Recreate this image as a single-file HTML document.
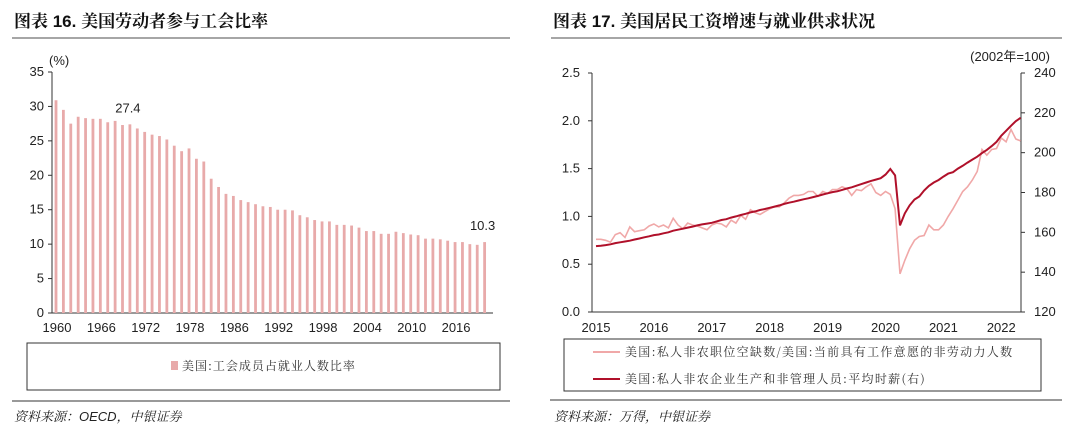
<!DOCTYPE html>
<html><head><meta charset="utf-8">
<style>
html,body{margin:0;padding:0;background:#fff;}
svg{display:block;font-family:"Liberation Sans","Noto Sans CJK SC",sans-serif;}
.t{font-family:"Liberation Sans","Noto Serif CJK SC","Noto Sans CJK SC",serif;font-weight:bold;font-size:17px;fill:#111;}
.tk{font-size:13px;fill:#222;}
.lg{font-family:"Noto Serif CJK SC","Noto Sans CJK SC",serif;font-size:12px;fill:#333;}
.lgw{letter-spacing:1.3px;}
.src{font-family:"Liberation Sans","Noto Serif CJK SC",serif;font-style:italic;font-size:13px;fill:#222;}
</style></head><body>
<svg id="root" width="1080" height="432" viewBox="0 0 1080 432" xmlns="http://www.w3.org/2000/svg">
<text class="t" x="14" y="27">图表 16. 美国劳动者参与工会比率</text>
<line x1="12" y1="38" x2="510" y2="38" stroke="#888" stroke-width="1.5"/>
<text class="t" x="553" y="27">图表 17. 美国居民工资增速与就业供求状况</text>
<line x1="551" y1="38" x2="1062" y2="38" stroke="#888" stroke-width="1.5"/>

<g id="left"></g>
<g id="right"></g>

<rect x="27" y="343" width="473" height="47" fill="none" stroke="#333" stroke-width="1"/>
<rect x="171" y="361" width="7" height="9" fill="#e8aaaa"/>
<text class="lg" x="182" y="370" style="letter-spacing:1px">美国:工会成员占就业人数比率</text>
<line x1="12" y1="401" x2="510" y2="401" stroke="#999" stroke-width="2"/>
<text class="src" x="14" y="421">资料来源：OECD，中银证券</text>

<rect x="564" y="339" width="477" height="52" fill="none" stroke="#333" stroke-width="1"/>
<line x1="593" y1="352" x2="620" y2="352" stroke="#f0a8a8" stroke-width="2"/>
<text class="lg lgw" x="625" y="356">美国:私人非农职位空缺数/美国:当前具有工作意愿的非劳动力人数</text>
<line x1="593" y1="379" x2="620" y2="379" stroke="#b0102a" stroke-width="2"/>
<text class="lg lgw" x="625" y="383">美国:私人非农企业生产和非管理人员:平均时薪(右)</text>
<line x1="550" y1="400" x2="1062" y2="400" stroke="#999" stroke-width="2"/>
<text class="src" x="554" y="421">资料来源：万得，中银证券</text>
</svg>
<script>
// ---- Left chart data ----
const unionYears = [];
for (let y = 1960; y <= 2018; y++) unionYears.push(y);
const unionRate = [30.9,29.5,27.5,28.5,28.3,28.2,28.2,27.7,27.9,27.3,27.4,26.8,26.3,25.9,25.7,25.2,24.3,23.5,23.9,22.4,22.0,19.5,18.3,17.3,17.0,16.4,16.1,15.8,15.5,15.4,15.0,15.0,14.9,14.2,13.9,13.5,13.3,13.3,12.8,12.8,12.7,12.4,11.9,11.9,11.5,11.5,11.8,11.6,11.4,11.3,10.8,10.8,10.7,10.5,10.3,10.3,10.0,9.9,10.3];
const unionTickLabels = ["1960","1966","1972","1978","1986","1992","1998","2004","2010","2016"];
const unionYTicks = [0,5,10,15,20,25,30,35];
const unionAnnot = [{i:10,text:"27.4"},{i:58,text:"10.3"}];

// ---- Right chart data ----
const wageStartYear = 2015;
const vacancyRatio = [0.76,0.76,0.75,0.73,0.81,0.83,0.78,0.89,0.84,0.85,0.86,0.9,
0.92,0.89,0.91,0.88,0.98,0.91,0.87,0.93,0.91,0.9,0.88,0.86,
0.91,0.93,0.92,0.89,0.96,0.93,1.01,0.97,1.07,1.04,1.02,1.05,
1.08,1.1,1.1,1.14,1.19,1.22,1.22,1.23,1.26,1.26,1.21,1.26,
1.24,1.28,1.28,1.31,1.29,1.22,1.28,1.27,1.31,1.34,1.25,1.22,
1.26,1.23,1.08,0.40,0.54,0.66,0.75,0.79,0.80,0.91,0.86,0.86,
0.91,1.0,1.08,1.17,1.26,1.31,1.38,1.47,1.7,1.64,1.7,1.71,
1.82,1.78,1.91,1.81,1.79];
const hourlyWage = [153.1,153.3,153.6,154,154.6,155,155.4,155.8,156.4,156.9,157.5,158,
158.6,158.9,159.5,160,160.8,161.3,161.8,162.4,162.9,163.5,164,164.4,
164.8,165.5,166.2,166.6,167.4,168,168.7,169.3,170,170.5,171.2,171.7,
172.3,172.9,173.5,174.3,174.9,175.4,176,176.6,177.1,177.7,178.3,179,
179.6,180.2,180.6,181.3,182,182.6,183.4,184.2,185,185.8,186.5,187.2,
189,191.8,188.6,163.5,169.5,173.5,176.5,178,181,183.3,185,186.3,
188,189.5,190.2,192,193.4,195,196.5,198,199.8,201.4,203.3,205.4,
208.5,211,213.5,215.8,217.5];
const wageYearLabels = ["2015","2016","2017","2018","2019","2020","2021","2022"];
const leftTicks = [0,0.5,1.0,1.5,2.0,2.5];
const rightTicks = [120,140,160,180,200,220,240];

const NS = "http://www.w3.org/2000/svg";
function mk(tag, attrs, parent, txt){
  const e = document.createElementNS(NS, tag);
  for (const k in attrs) e.setAttribute(k, attrs[k]);
  if (txt !== undefined) e.textContent = txt;
  parent.appendChild(e);
  return e;
}

// ---- Left chart ----
(function(){
  const g = document.getElementById('left');
  const x0 = 52, xEnd = 493, y0 = 313, yTop = 72, yMax = 35;
  const yS = v => y0 - (v / yMax) * (y0 - yTop);
  const step = 7.39, first = 56;
  const xS = i => first + i * step;
  const ax = mk('line', {x1:x0, y1:yTop, x2:x0, y2:y0, stroke:'#333', 'stroke-width':1}, g);
  
  
  const bx = mk('line', {x1:x0, y1:y0, x2:xEnd, y2:y0, stroke:'#333', 'stroke-width':1}, g);
  
  
  unionYTicks.forEach(v => {
    const t = mk('line', {x1:x0-4, y1:yS(v), x2:x0, y2:yS(v), stroke:'#333'}, g);
    
    
    const l = mk('text', {x:x0-8, y:yS(v)+4, 'text-anchor':'end', class:'tk'}, g, String(v));
    
    
  });
  const u = mk('text', {x:49, y:65, class:'tk'}, g, '(%)');
  
  
  unionRate.forEach((v, i) => {
    const b = mk('rect', {x:xS(i)-1.4, y:yS(v), width:2.8, height:y0-yS(v), fill:'#e8aaaa'}, g);
    
    
  });
  unionTickLabels.forEach((s, k) => {
    const l = mk('text', {x:xS(k*6)+1, y:332, 'text-anchor':'middle', class:'tk'}, g, s);
    
    
  });
  unionAnnot.forEach(a => {
    const l = mk('text', {x:xS(a.i)-2, y:yS(unionRate[a.i])-12, 'text-anchor':'middle', style:'font-size:13px;fill:#222'}, g, a.text);
    
    
  });
})();

// ---- Right chart ----
(function(){
  const g = document.getElementById('right');
  const xL = 592, xR = 1021, y0 = 312, yTop = 73;
  const yL = v => y0 - (v / 2.5) * (y0 - yTop);
  const yR = v => y0 - ((v - 120) / 120) * (y0 - yTop);
  const yearW = 57.9, xStart = 596;
  const xM = i => xStart + i * yearW / 12;
  const a1 = mk('line', {x1:xL, y1:yTop, x2:xL, y2:y0, stroke:'#333'}, g);
  
  
  const a2 = mk('line', {x1:xR, y1:yTop, x2:xR, y2:y0, stroke:'#333'}, g);
  
  
  const a3 = mk('line', {x1:xL, y1:y0, x2:xR, y2:y0, stroke:'#333'}, g);
  
  
  leftTicks.forEach(v => {
    const t = mk('line', {x1:xL-4, y1:yL(v), x2:xL, y2:yL(v), stroke:'#333'}, g);
    
    
    const l = mk('text', {x:xL-12, y:yL(v)+4, 'text-anchor':'end', class:'tk'}, g, v.toFixed(1));
    
    
  });
  rightTicks.forEach(v => {
    const t = mk('line', {x1:xR, y1:yR(v), x2:xR+4, y2:yR(v), stroke:'#333'}, g);
    
    
    const l = mk('text', {x:xR+13, y:yR(v)+4, class:'tk'}, g, String(v));
    
    
  });
  const u = mk('text', {x:1050, y:61, 'text-anchor':'end', class:'tk'}, g, '(2002年=100)');
  
  
  wageYearLabels.forEach((s, k) => {
    const l = mk('text', {x:xStart + k*yearW, y:332, 'text-anchor':'middle', class:'tk'}, g, s);
    
    
  });
  const p1 = mk('polyline', {points: vacancyRatio.map((v,i)=>xM(i).toFixed(1)+','+yL(v).toFixed(1)).join(' '), fill:'none', stroke:'#f0a8a8', 'stroke-width':1.6}, g);
  
  
  const p2 = mk('polyline', {points: hourlyWage.map((v,i)=>xM(i).toFixed(1)+','+yR(v).toFixed(1)).join(' '), fill:'none', stroke:'#b0102a', 'stroke-width':2}, g);
  
  
})();
</script>
</body></html>
